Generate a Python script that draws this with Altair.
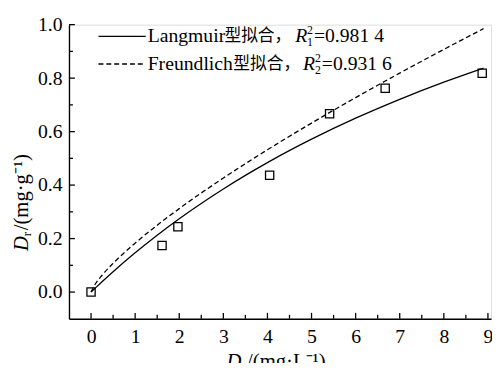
import altair as alt
import pandas as pd

# ---------------- data ----------------
ce_obs = [0.0, 1.61, 1.97, 4.05, 5.41, 6.67, 8.87]
qe_obs = [0.0, 0.174, 0.244, 0.437, 0.667, 0.762, 0.818]

ce_fit = [0.0, 0.1, 0.25, 0.5, 1.0, 1.5, 2.0, 3.0, 4.0, 5.0, 6.0, 7.0, 8.0, 8.9]
q_langmuir = [0.0, 0.0157, 0.0388, 0.0761, 0.1468, 0.2127, 0.2742, 0.3857,
              0.4842, 0.5718, 0.6503, 0.7209, 0.7849, 0.8375]
q_freundlich = [0.0, 0.0311, 0.0629, 0.1073, 0.1830, 0.2500, 0.3120, 0.4264,
                0.5321, 0.6319, 0.7272, 0.8188, 0.9075, 0.9852]

x_major = [0, 1, 2, 3, 4, 5, 6, 7, 8, 9]
x_minor = [0.5, 1.5, 2.5, 3.5, 4.5, 5.5, 6.5, 7.5, 8.5]
y_major = [0.0, 0.2, 0.4, 0.6, 0.8, 1.0]
y_minor = [0.1, 0.3, 0.5, 0.7, 0.9]

legend_names = ["Langmuir", "Freundlich"]
legend_cn = "型拟合，"
legend_r_sub = ["1", "2"]
legend_r2 = ["=0.981 4", "=0.931 6"]

x_title_parts = ["D", "e", "/(mg·L⁻¹)"]
y_title_parts = ["D", "r", "/(mg·g⁻¹)"]

# ---------------- layout ----------------
W, H = 429, 299
FONT = "Times New Roman"
CJK = "Noto Sans CJK SC"
xs = alt.Scale(domain=[-0.5, 9.07], nice=False, zero=False)
ys = alt.Scale(domain=[-0.1, 1.0], nice=False, zero=False)

obs_df = pd.DataFrame({"ce": ce_obs, "qe": qe_obs})
fit_df = pd.DataFrame({"ce": ce_fit, "lang": q_langmuir, "freu": q_freundlich})
one = pd.DataFrame({"a": [0]})

points = alt.Chart(obs_df).mark_point(
    shape="square", filled=False, size=70, color="black", strokeWidth=1.3, opacity=1
).encode(
    x=alt.X("ce:Q", scale=xs, title=None,
            axis=alt.Axis(values=x_major, tickSize=0, labelPadding=8, grid=False,
                          labelFont=FONT, labelFontSize=20, labelColor="black",
                          domainColor="black", domainWidth=1.4, labelFlush=False)),
    y=alt.Y("qe:Q", scale=ys, title=None,
            axis=alt.Axis(values=y_major, format=".1f", tickSize=0, labelPadding=7,
                          grid=False, labelFont=FONT, labelFontSize=20,
                          labelColor="black", domainColor="black", domainWidth=1.4,
                          labelFlush=False)),
)

lang_line = alt.Chart(fit_df).mark_line(
    color="black", strokeWidth=1.3, interpolate="monotone"
).encode(x=alt.X("ce:Q", scale=xs), y=alt.Y("lang:Q", scale=ys))

freu_line = alt.Chart(fit_df).mark_line(
    color="black", strokeWidth=1.3, strokeDash=[5, 3], interpolate="monotone"
).encode(x=alt.X("ce:Q", scale=xs), y=alt.Y("freu:Q", scale=ys))

# inward ticks
xmaj = alt.Chart(pd.DataFrame({"v": x_major})).mark_rule(color="black", strokeWidth=1.3).encode(
    x=alt.X("v:Q", scale=xs), y=alt.value(H), y2=alt.value(H - 6))
xmin = alt.Chart(pd.DataFrame({"v": x_minor})).mark_rule(color="black", strokeWidth=1.3).encode(
    x=alt.X("v:Q", scale=xs), y=alt.value(H), y2=alt.value(H - 4))
ymaj = alt.Chart(pd.DataFrame({"v": y_major})).mark_rule(color="black", strokeWidth=1.3).encode(
    y=alt.Y("v:Q", scale=ys), x=alt.value(0), x2=alt.value(6))
ymin = alt.Chart(pd.DataFrame({"v": y_minor})).mark_rule(color="black", strokeWidth=1.3).encode(
    y=alt.Y("v:Q", scale=ys), x=alt.value(0), x2=alt.value(4))


def txt(s, x, y, size=19, style="normal", align="left", angle=0, font=FONT):
    return alt.Chart(one).mark_text(
        text=s, font=font, fontSize=size, fontStyle=style, align=align,
        baseline="middle", color="black", angle=angle
    ).encode(x=alt.value(x), y=alt.value(y))


layers = [lang_line, freu_line, points, xmaj, xmin, ymaj, ymin]

# legend
name_end = [158, 167]
for i, (ly, dash) in enumerate([(12, [1, 0]), (40, [5, 3])]):
    layers.append(alt.Chart(one).mark_rule(color="black", strokeWidth=1.3, strokeDash=dash).encode(
        x=alt.value(30), x2=alt.value(78), y=alt.value(ly)))
    layers.append(txt(legend_names[i], 80, ly, size=20))
    layers.append(txt(legend_cn, name_end[i], ly, size=17, font=CJK))
    rx = 230 + 8 * i
    layers.append(txt("R", rx, ly, size=20, style="italic"))
    layers.append(txt("2", rx + 12, ly - 6, size=12))
    layers.append(txt(legend_r_sub[i], rx + 12, ly + 6, size=12))
    layers.append(txt(legend_r2[i], rx + 19, ly, size=20))

# x title
layers.append(txt(x_title_parts[0], 160, 343, size=21, style="italic"))
layers.append(txt(x_title_parts[1], 175, 348, size=13))
layers.append(txt(x_title_parts[2], 181, 343, size=21))

# y title (rotated)
layers.append(txt(y_title_parts[0], -48, 230, size=21, style="italic", angle=270))
layers.append(txt(y_title_parts[1], -43, 215, size=13, angle=270))
layers.append(txt(y_title_parts[2], -48, 209, size=21, angle=270))

chart = alt.layer(*layers).properties(
    width=W, height=H,
    autosize=alt.AutoSizeParams(type="none"),
    padding={"left": 62, "top": 14, "right": 1, "bottom": 42},
).configure_view(stroke=None).configure(background="white")

chart.save("out.html", embed_options={"renderer": "svg", "actions": False})
